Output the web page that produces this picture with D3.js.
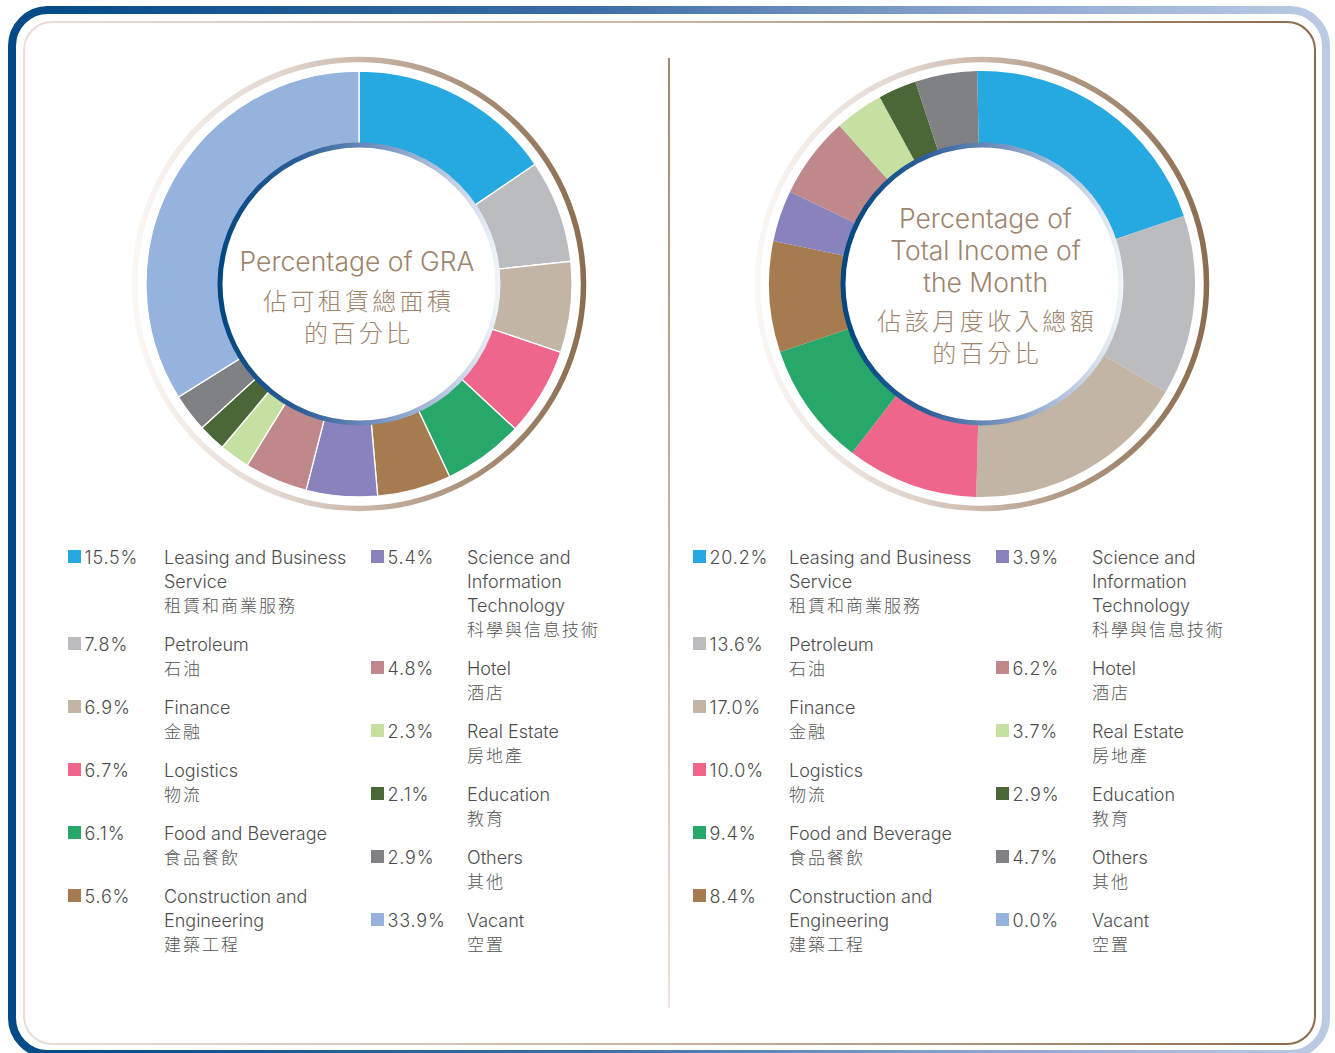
<!DOCTYPE html>
<html>
<head>
<meta charset="utf-8">
<script src="https://cdn.jsdelivr.net/npm/d3@7"></script>
<style>
  html, body { margin: 0; padding: 0; background: #fff; }
  svg { display: block; }
  .en { font-family: Inter, Roboto, "Liberation Sans", sans-serif; font-weight: 300; }
  .zh { font-family: "Noto Sans CJK TC", "Noto Sans CJK SC", sans-serif; font-weight: 300; }
</style>
</head>
<body>
<svg id="chart" width="1335" height="1053"></svg>
<script>
// ---------- DATA ----------
const categories = ["Leasing and Business Service", "Petroleum", "Finance", "Logistics", "Food and Beverage",
  "Construction and Engineering", "Science and Information Technology", "Hotel", "Real Estate", "Education", "Others", "Vacant"];
const categoryLinesEn = [
  ["Leasing and Business", "Service"], ["Petroleum"], ["Finance"], ["Logistics"], ["Food and Beverage"],
  ["Construction and", "Engineering"], ["Science and", "Information", "Technology"], ["Hotel"], ["Real Estate"],
  ["Education"], ["Others"], ["Vacant"]];
const categoriesZh = ["租賃和商業服務", "石油", "金融", "物流", "食品餐飲", "建築工程", "科學與信息技術", "酒店", "房地產", "教育", "其他", "空置"];
const graValues = [15.5, 7.8, 6.9, 6.7, 6.1, 5.6, 5.4, 4.8, 2.3, 2.1, 2.9, 33.9];
const incomeValues = [20.2, 13.6, 17.0, 10.0, 9.4, 8.4, 3.9, 6.2, 3.7, 2.9, 4.7, 0.0];
const colors = ["#25a9e0", "#bbbcc0", "#c2b5a5", "#ef668c", "#27a769", "#a67b50",
  "#8882bd", "#bf898c", "#c5e0a0", "#4b6737", "#808184", "#95b3dd"];
const titleGraEn = ["Percentage of GRA"];
const titleGraZh = ["佔可租賃總面積", "的百分比"];
const titleIncomeEn = ["Percentage of", "Total Income of", "the Month"];
const titleIncomeZh = ["佔該月度收入總額", "的百分比"];

// ---------- SETUP ----------
const svg = d3.select("#chart");
const defs = svg.append("defs");

function linGrad(id, x1, y1, x2, y2, stops) {
  const g = defs.append("linearGradient").attr("id", id)
    .attr("gradientUnits", "userSpaceOnUse")
    .attr("x1", x1).attr("y1", y1).attr("x2", x2).attr("y2", y2);
  stops.forEach(s => g.append("stop").attr("offset", s[0]).attr("stop-color", s[1]));
}

// Outer frame
linGrad("gOuter", 8, 0, 1330, 0, [[0, "#004a86"], [0.45, "#3f6ea6"], [0.75, "#8fa8d0"], [1, "#bccbe4"]]);
svg.append("rect").attr("x", 12).attr("y", 10).attr("width", 1314).attr("height", 1044)
  .attr("rx", 36).attr("ry", 36).attr("fill", "none").attr("stroke", "url(#gOuter)").attr("stroke-width", 8);
// Inner frame
linGrad("gInner", 24, 0, 1315, 0, [[0, "#e9ddd7"], [0.5, "#c9b5a5"], [1, "#8b6a4e"]]);
svg.append("rect").attr("x", 24).attr("y", 22).attr("width", 1291).attr("height", 1022)
  .attr("rx", 28).attr("ry", 28).attr("fill", "none").attr("stroke", "url(#gInner)").attr("stroke-width", 2);
// Divider
linGrad("gDiv", 0, 58, 0, 1008, [[0, "#a2876e"], [1, "#f0e2dc"]]);
svg.append("rect").attr("x", 668).attr("y", 58).attr("width", 2).attr("height", 950).attr("fill", "url(#gDiv)");

// ---------- DONUTS ----------
const rInner = 138, rOuter = 213;
function drawDonut(id, cx, cy, values, startAngle, sep, tx, enLines, zhLines, enBaselines, zhBaselines, zhSpacing) {
  const g = svg.append("g").attr("transform", `translate(${cx},${cy})`);
  linGrad("gRing" + id, cx - 230, 0, cx + 230, 0, [[0, "#fbf8f6"], [0.35, "#e0d3ca"], [0.65, "#b59e8b"], [1, "#8a6b4f"]]);
  svg.append("circle").attr("cx", cx).attr("cy", cy).attr("r", 224.5).attr("fill", "none")
    .attr("stroke", "url(#gRing" + id + ")").attr("stroke-width", 5.5);
  const pie = d3.pie().sort(null).value(d => d).startAngle(startAngle).endAngle(startAngle + 2 * Math.PI);
  const arc = d3.arc().innerRadius(rInner).outerRadius(rOuter);
  g.selectAll("path.slice").data(pie(values)).join("path").attr("class", "slice")
    .attr("d", arc).attr("fill", (d, i) => colors[i])
    .attr("stroke", sep ? "#fff" : "none").attr("stroke-width", sep ? 1.3 : 0);
  linGrad("gBlue" + id, cx - 142, 0, cx + 142, 0, [[0, "#00467f"], [0.3, "#2f5f99"], [0.6, "#7e99c4"], [1, "#f2f5fb"]]);
  svg.append("circle").attr("cx", cx).attr("cy", cy).attr("r", 139).attr("fill", "#fff")
    .attr("stroke", "url(#gBlue" + id + ")").attr("stroke-width", 5);
  const tg = svg.append("g");
  enLines.forEach((t, i) => tg.append("text").attr("class", "en").attr("x", tx).attr("y", enBaselines[i])
    .attr("text-anchor", "middle").attr("font-size", 26.5).attr("fill", "#9e846d").text(t));
  zhLines.forEach((t, i) => tg.append("text").attr("class", "zh").attr("x", tx + zhSpacing / 2).attr("y", zhBaselines[i])
    .attr("text-anchor", "middle").attr("font-size", 24).attr("letter-spacing", zhSpacing).attr("fill", "#9e846d").text(t));
}
drawDonut("L", 359, 284, graValues, 0, true, 357, titleGraEn, titleGraZh, [271], [310, 342], 3.3);
drawDonut("R", 982, 284, incomeValues, -0.023, false, 985.5, titleIncomeEn, titleIncomeZh, [228, 260, 292], [330, 362], 3.5);

// ---------- LEGENDS ----------
const lineH = 24, itemGap = 15;
function drawLegend(x0, values) {
  const cols = [[0, 1, 2, 3, 4, 5], [6, 7, 8, 9, 10, 11]];
  cols.forEach((idxs, c) => {
    const xs = x0 + c * 303;
    let y = 564;
    idxs.forEach(i => {
      const g = svg.append("g");
      g.append("rect").attr("x", xs).attr("y", y - 14).attr("width", 13).attr("height", 13).attr("fill", colors[i]);
      g.append("text").attr("class", "en").attr("x", xs + 16.5).attr("y", y).attr("font-size", 18)
        .attr("letter-spacing", 0.8).attr("fill", "#4d4d4d").text(d3.format(".1f")(values[i]) + "%");
      const lines = categoryLinesEn[i];
      lines.forEach((t, k) => g.append("text").attr("class", "en").attr("x", xs + 96).attr("y", y + k * lineH)
        .attr("font-size", 18).attr("fill", "#4d4d4d").text(t));
      g.append("text").attr("class", "zh").attr("x", xs + 96).attr("y", y + lines.length * lineH)
        .attr("font-size", 17).attr("letter-spacing", 2).attr("fill", "#555").text(categoriesZh[i]);
      y += (lines.length + 1) * lineH + itemGap;
    });
  });
}
drawLegend(68, graValues);
drawLegend(693, incomeValues);
</script>
</body>
</html>
